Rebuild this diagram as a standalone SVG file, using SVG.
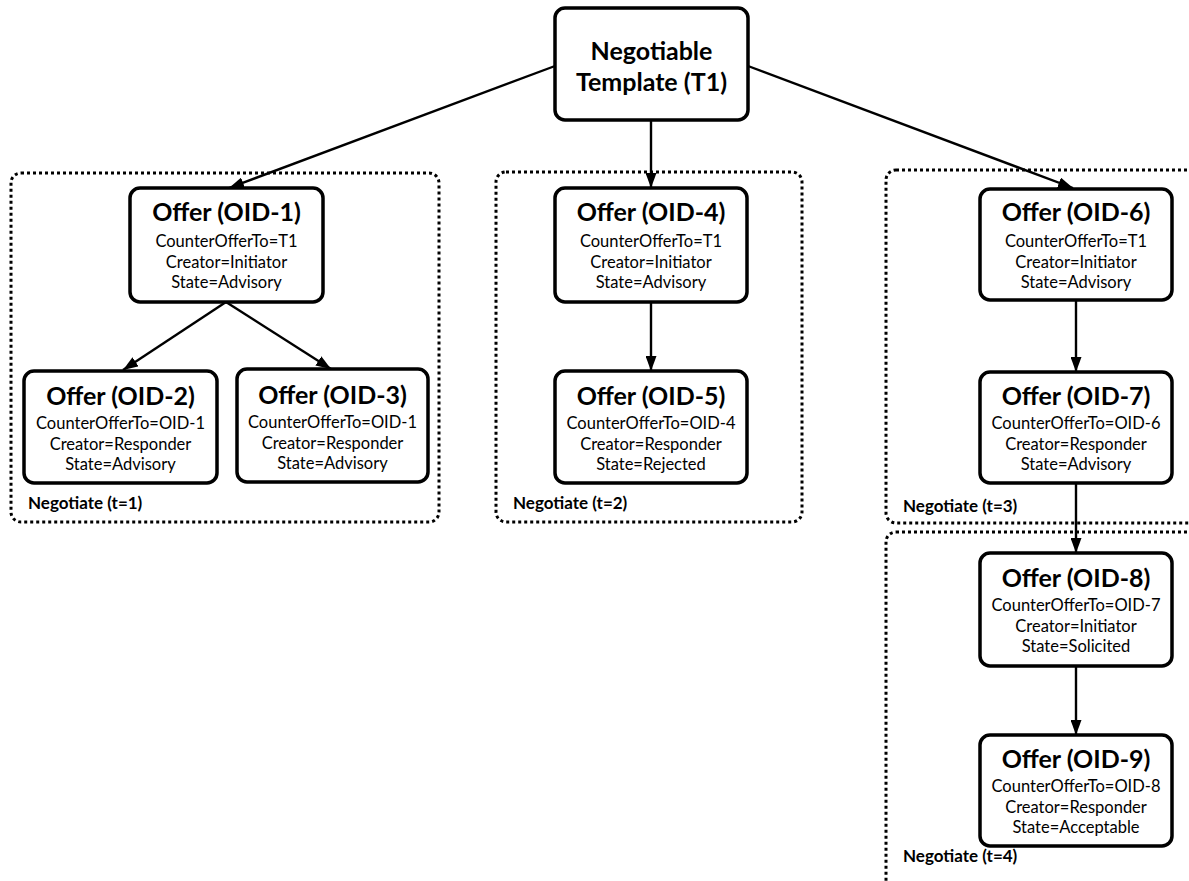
<svg xmlns="http://www.w3.org/2000/svg" width="1189" height="881" viewBox="0 0 1189 881">
  <style>
    .node { fill: #fff; stroke: #000; stroke-width: 3.5; }
    .group { fill: none; stroke: #000; stroke-width: 3; stroke-dasharray: 3 3; }
    .title { font-family: Lato, "Liberation Sans", sans-serif; font-weight: bold; font-size: 25px; text-anchor: middle; fill: #000; }
    .body { font-family: Lato, "Liberation Sans", sans-serif; font-size: 16.5px; text-anchor: middle; fill: #000; }
    .label { font-family: Lato, "Liberation Sans", sans-serif; font-weight: bold; font-size: 17px; fill: #000; }
    .edge { stroke: #000; stroke-width: 2.4; fill: none; marker-end: url(#arrow); }
  </style>
  <defs>
    <marker id="arrow" viewBox="0 0 15 11" refX="15" refY="5.5" markerWidth="15" markerHeight="11" markerUnits="userSpaceOnUse" orient="auto">
      <path d="M0,0 L15,5.5 L0,11 Z" fill="#000"/>
    </marker>
  </defs>
  <rect width="1189" height="881" fill="#fff"/>

  <!-- negotiation rounds -->
  <g id="rounds">
    <g id="round-1">
      <rect class="group" x="11" y="173" width="428" height="349" rx="10"/>
      <text class="label" x="28" y="509">Negotiate (t=1)</text>
    </g>
    <g id="round-2">
      <rect class="group" x="496" y="172" width="306" height="350" rx="10"/>
      <text class="label" x="513" y="509">Negotiate (t=2)</text>
    </g>
    <g id="round-3">
      <rect class="group" x="886" y="170" width="320" height="353" rx="10"/>
      <text class="label" x="903" y="512">Negotiate (t=3)</text>
    </g>
    <g id="round-4">
      <rect class="group" x="886" y="532" width="320" height="370" rx="10"/>
      <text class="label" x="903" y="862">Negotiate (t=4)</text>
    </g>
  </g>

  <!-- connectors -->
  <g id="connectors">
    <line class="edge" x1="555" y1="66" x2="229" y2="188"/>
    <line class="edge" x1="651" y1="120" x2="651" y2="188"/>
    <line class="edge" x1="748" y1="66" x2="1073" y2="188"/>
    <line class="edge" x1="226" y1="302" x2="123" y2="370"/>
    <line class="edge" x1="226" y1="302" x2="331" y2="369"/>
    <line class="edge" x1="651" y1="302" x2="651" y2="371"/>
    <line class="edge" x1="1076" y1="300" x2="1076" y2="372"/>
    <line class="edge" x1="1076" y1="483" x2="1076" y2="553"/>
    <line class="edge" x1="1076" y1="666" x2="1076" y2="735"/>
  </g>

  <!-- template -->
  <g id="t1">
    <rect class="node" x="555" y="8" width="193" height="112" rx="10"/>
    <text class="title" x="651.5" y="60">Negotiable</text>
    <text class="title" x="651.5" y="91">Template (T1)</text>
  </g>

  <!-- offers -->
  <g id="oid-1">
    <rect class="node" x="130" y="188" width="193" height="114" rx="10"/>
    <text class="title" x="226.5" y="221">Offer (OID-1)</text>
    <text class="body" x="226.5" y="247">CounterOfferTo=T1</text>
    <text class="body" x="226.5" y="267.5">Creator=Initiator</text>
    <text class="body" x="226.5" y="288">State=Advisory</text>
  </g>
  <g id="oid-2">
    <rect class="node" x="24" y="371" width="193" height="112" rx="10"/>
    <text class="title" x="120.5" y="405">Offer (OID-2)</text>
    <text class="body" x="120.5" y="429">CounterOfferTo=OID-1</text>
    <text class="body" x="120.5" y="449.5">Creator=Responder</text>
    <text class="body" x="120.5" y="470">State=Advisory</text>
  </g>
  <g id="oid-3">
    <rect class="node" x="237" y="369" width="191" height="113" rx="10"/>
    <text class="title" x="332.5" y="404">Offer (OID-3)</text>
    <text class="body" x="332.5" y="428">CounterOfferTo=OID-1</text>
    <text class="body" x="332.5" y="448.5">Creator=Responder</text>
    <text class="body" x="332.5" y="469">State=Advisory</text>
  </g>
  <g id="oid-4">
    <rect class="node" x="555" y="188" width="192" height="114" rx="10"/>
    <text class="title" x="651" y="221">Offer (OID-4)</text>
    <text class="body" x="651" y="247">CounterOfferTo=T1</text>
    <text class="body" x="651" y="267.5">Creator=Initiator</text>
    <text class="body" x="651" y="288">State=Advisory</text>
  </g>
  <g id="oid-5">
    <rect class="node" x="555" y="371" width="192" height="112" rx="10"/>
    <text class="title" x="651" y="405">Offer (OID-5)</text>
    <text class="body" x="651" y="429">CounterOfferTo=OID-4</text>
    <text class="body" x="651" y="449.5">Creator=Responder</text>
    <text class="body" x="651" y="470">State=Rejected</text>
  </g>
  <g id="oid-6">
    <rect class="node" x="980" y="189" width="192" height="111" rx="10"/>
    <text class="title" x="1076" y="221">Offer (OID-6)</text>
    <text class="body" x="1076" y="247">CounterOfferTo=T1</text>
    <text class="body" x="1076" y="267.5">Creator=Initiator</text>
    <text class="body" x="1076" y="288">State=Advisory</text>
  </g>
  <g id="oid-7">
    <rect class="node" x="980" y="372" width="192" height="111" rx="10"/>
    <text class="title" x="1076" y="405">Offer (OID-7)</text>
    <text class="body" x="1076" y="429">CounterOfferTo=OID-6</text>
    <text class="body" x="1076" y="449.5">Creator=Responder</text>
    <text class="body" x="1076" y="470">State=Advisory</text>
  </g>
  <g id="oid-8">
    <rect class="node" x="980" y="553" width="192" height="113" rx="10"/>
    <text class="title" x="1076" y="587">Offer (OID-8)</text>
    <text class="body" x="1076" y="611">CounterOfferTo=OID-7</text>
    <text class="body" x="1076" y="631.5">Creator=Initiator</text>
    <text class="body" x="1076" y="652">State=Solicited</text>
  </g>
  <g id="oid-9">
    <rect class="node" x="980" y="735" width="192" height="111" rx="10"/>
    <text class="title" x="1076" y="768">Offer (OID-9)</text>
    <text class="body" x="1076" y="792">CounterOfferTo=OID-8</text>
    <text class="body" x="1076" y="812.5">Creator=Responder</text>
    <text class="body" x="1076" y="833">State=Acceptable</text>
  </g>
</svg>
